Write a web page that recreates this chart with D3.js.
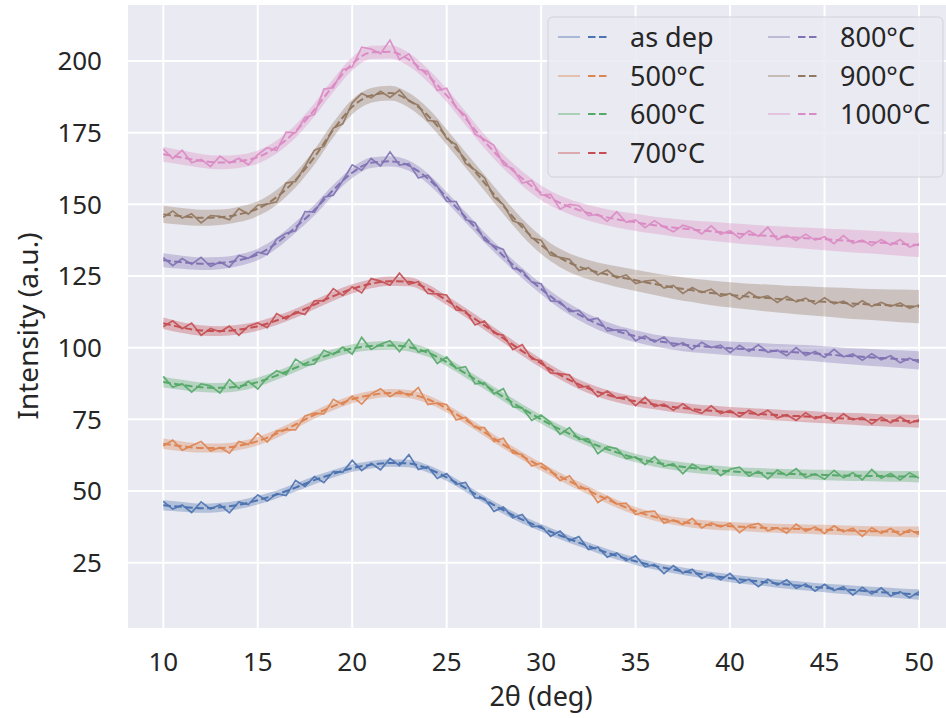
<!DOCTYPE html>
<html>
<head>
<meta charset="utf-8">
<script src="https://cdn.jsdelivr.net/npm/d3@7"></script>
<style>
  body { margin: 0; background: #fff; }
  svg { display: block; font-family: "Noto Sans", "Open Sans", sans-serif; }
</style>
</head>
<body>
<svg id="chart" width="946" height="718"></svg>
<script>
// --- data ---
const seriesNames = ["as dep", "500°C", "600°C", "700°C", "800°C", "900°C", "1000°C"];
const seriesColors = ["#4C72B0", "#DD8452", "#55A868", "#C44E52", "#8172B3", "#937860", "#DA8BC3"];
const xTicks = [10, 15, 20, 25, 30, 35, 40, 45, 50];
const yTicks = [25, 50, 75, 100, 125, 150, 175, 200];

const fitTheta = [10, 11, 12, 13, 14, 15, 16, 17, 18, 19, 20, 21, 22, 23, 24, 25, 26, 27, 28, 29, 30,
  31, 32, 33, 34, 35, 36, 37, 38, 39, 40, 41, 42, 43, 44, 45, 46, 47, 48, 49, 50];
const rawTheta = [10, 10.5, 11, 11.5, 12, 12.5, 13, 13.5, 14, 14.5, 15, 15.5, 16, 16.5, 17, 17.5, 18, 18.5,
  19, 19.5, 20, 20.5, 21, 21.5, 22, 22.5, 23, 23.5, 24, 24.5, 25, 25.5, 26, 26.5, 27, 27.5, 28, 28.5, 29, 29.5,
  30, 30.5, 31, 31.5, 32, 32.5, 33, 33.5, 34, 34.5, 35, 35.5, 36, 36.5, 37, 37.5, 38, 38.5, 39, 39.5, 40, 40.5,
  41, 41.5, 42, 42.5, 43, 43.5, 44, 44.5, 45, 45.5, 46, 46.5, 47, 47.5, 48, 48.5, 49, 49.5, 50];

const fitAsDep = [45.0, 44.5, 44.0, 44.3, 45.2, 46.8, 48.8, 51.2, 53.8, 56.0, 58.0, 59.2, 59.8, 59.6, 57.8, 54.8,
  51.0, 47.0, 43.3, 40.0, 37.2, 34.5, 32.0, 29.6, 27.4, 25.5, 23.9, 22.6, 21.5, 20.5, 19.6, 18.8, 18.1, 17.4,
  16.8, 16.2, 15.7, 15.2, 14.7, 14.3, 13.9];
const fit500 = [66.5, 65.6, 65.0, 65.0, 65.8, 67.4, 70.0, 73.2, 76.6, 79.6, 82.0, 83.5, 84.2, 83.8, 82.0, 78.8,
  74.8, 70.5, 66.2, 62.2, 58.5, 55.0, 51.8, 48.6, 45.6, 43.0, 41.0, 39.6, 38.7, 38.1, 37.7, 37.4, 37.1, 36.9,
  36.7, 36.5, 36.3, 36.1, 35.9, 35.8, 35.7];
const fit600 = [88.0, 87.0, 86.2, 86.0, 86.5, 88.0, 90.3, 93.0, 95.8, 98.0, 99.7, 100.6, 100.8, 100.2, 98.3, 95.0,
  91.0, 87.0, 82.8, 78.8, 75.0, 71.5, 68.5, 65.8, 63.5, 61.5, 60.0, 58.9, 58.0, 57.4, 56.9, 56.5, 56.2, 56.0,
  55.8, 55.6, 55.4, 55.3, 55.2, 55.1, 55.0];
const fit700 = [108.5, 107.0, 106.0, 105.8, 106.3, 107.5, 109.5, 112.0, 115.0, 118.0, 120.5, 122.3, 123.2, 123.0,
  120.5, 116.5, 112.2, 107.8, 103.3, 98.8, 94.5, 90.5, 87.2, 84.6, 82.7, 81.3, 80.2, 79.3, 78.6, 78.0, 77.5, 77.1,
  76.7, 76.3, 76.0, 75.6, 75.3, 75.0, 74.7, 74.5, 74.3];
const fit800 = [130.5, 129.8, 129.3, 129.5, 130.5, 132.5, 136.5, 142.0, 148.0, 155.0, 161.0, 164.5, 165.0, 163.5,
  159.0, 152.5, 145.5, 138.5, 132.0, 126.0, 120.5, 115.5, 111.5, 108.3, 105.8, 104.0, 102.5, 101.5, 100.7, 100.2,
  99.8, 99.4, 99.0, 98.6, 98.2, 97.7, 97.2, 96.8, 96.4, 96.0, 95.6];
const fit900 = [146.5, 145.8, 145.3, 145.5, 146.5, 148.5, 152.5, 158.5, 166.5, 176.0, 184.0, 188.0, 188.8, 186.3,
  181.0, 173.5, 165.5, 157.5, 149.5, 142.0, 135.8, 131.3, 128.3, 126.3, 124.8, 123.5, 122.2, 121.0, 120.0, 119.1,
  118.4, 117.8, 117.3, 116.8, 116.4, 116.0, 115.6, 115.2, 114.9, 114.6, 114.3];
const fit1000 = [167.5, 166.3, 165.2, 164.6, 165.0, 166.5, 170.0, 175.5, 183.0, 191.5, 199.0, 203.0, 203.2, 200.5,
  195.0, 188.0, 180.0, 172.0, 165.0, 159.0, 154.0, 150.5, 148.0, 146.2, 144.8, 143.7, 142.7, 141.9, 141.2, 140.6,
  140.0, 139.5, 139.0, 138.6, 138.2, 137.8, 137.4, 137.0, 136.6, 136.2, 135.8];

const bandAsDep = [1.8, 1.7, 1.6, 1.6, 1.5, 1.5, 1.4, 1.4, 1.4, 1.3, 1.3, 1.3, 1.3, 1.3, 1.3, 1.3, 1.3, 1.3, 1.3,
  1.3, 1.3, 1.3, 1.3, 1.3, 1.3, 1.3, 1.3, 1.3, 1.3, 1.3, 1.4, 1.4, 1.4, 1.5, 1.5, 1.5, 1.6, 1.6, 1.7, 1.7, 1.8];
const band500 = [1.8, 1.7, 1.6, 1.6, 1.5, 1.5, 1.5, 1.4, 1.4, 1.4, 1.4, 1.4, 1.4, 1.4, 1.4, 1.4, 1.4, 1.4, 1.4,
  1.4, 1.4, 1.4, 1.4, 1.4, 1.4, 1.4, 1.4, 1.4, 1.5, 1.5, 1.5, 1.5, 1.6, 1.6, 1.6, 1.7, 1.7, 1.7, 1.8, 1.8, 1.9];
const band600 = [1.9, 1.8, 1.7, 1.7, 1.6, 1.6, 1.5, 1.5, 1.5, 1.5, 1.5, 1.5, 1.5, 1.5, 1.5, 1.5, 1.5, 1.5, 1.5,
  1.5, 1.5, 1.5, 1.5, 1.5, 1.5, 1.5, 1.5, 1.6, 1.6, 1.6, 1.6, 1.6, 1.7, 1.7, 1.7, 1.8, 1.8, 1.8, 1.9, 1.9, 2.0];
const band700 = [2.0, 1.9, 1.8, 1.7, 1.7, 1.6, 1.6, 1.6, 1.6, 1.6, 1.6, 1.6, 1.6, 1.6, 1.6, 1.6, 1.6, 1.6, 1.6,
  1.6, 1.6, 1.6, 1.7, 1.7, 1.7, 1.7, 1.7, 1.8, 1.8, 1.8, 1.8, 1.9, 1.9, 1.9, 2.0, 2.0, 2.0, 2.1, 2.1, 2.2, 2.2];
const band800 = [2.4, 2.3, 2.2, 2.1, 2.0, 2.0, 1.9, 1.9, 1.9, 1.8, 1.8, 1.8, 1.8, 1.8, 1.8, 1.8, 1.8, 1.8, 1.8,
  1.8, 1.9, 1.9, 1.9, 2.0, 2.0, 2.1, 2.1, 2.2, 2.3, 2.3, 2.4, 2.5, 2.5, 2.6, 2.7, 2.8, 2.8, 2.9, 3.0, 3.1, 3.2];
const band900 = [3.0, 2.9, 2.8, 2.7, 2.7, 2.6, 2.6, 2.6, 2.6, 2.6, 2.6, 2.6, 2.6, 2.6, 2.6, 2.7, 2.7, 2.8, 2.9,
  3.0, 3.1, 3.2, 3.3, 3.4, 3.6, 3.7, 3.8, 4.0, 4.1, 4.3, 4.4, 4.5, 4.7, 4.8, 5.0, 5.1, 5.3, 5.4, 5.5, 5.7, 5.8];
const band1000 = [2.6, 2.5, 2.4, 2.4, 2.3, 2.3, 2.3, 2.3, 2.3, 2.3, 2.3, 2.3, 2.3, 2.3, 2.3, 2.3, 2.4, 2.4, 2.5,
  2.5, 2.6, 2.6, 2.7, 2.8, 2.9, 3.0, 3.0, 3.1, 3.2, 3.3, 3.4, 3.5, 3.5, 3.6, 3.7, 3.8, 3.9, 4.0, 4.0, 4.1, 4.2];

const rawAsDep = [46.4, 43.7, 45.1, 42.5, 46.2, 43.7, 45.2, 42.4, 46.2, 45.3, 48.7, 46.5, 49.1, 48.4, 53.7, 51.6,
  55.0, 52.9, 56.8, 56.6, 60.7, 57.1, 59.7, 57.4, 61.4, 58.9, 62.7, 57.5, 58.5, 54.4, 56.1, 52.3, 53.0, 47.6, 47.4,
  42.9, 44.4, 40.7, 41.8, 37.6, 37.8, 34.2, 36.0, 32.7, 34.1, 29.6, 30.4, 26.9, 28.4, 25.7, 27.4, 23.6, 24.4, 21.2,
  24.0, 21.4, 22.7, 19.5, 21.2, 19.1, 21.3, 17.9, 19.2, 16.6, 19.2, 17.2, 19.0, 16.1, 17.6, 15.1, 17.5, 15.3, 16.6,
  13.7, 16.4, 14.1, 16.2, 13.4, 14.9, 12.8, 14.9];
const raw500 = [65.7, 67.8, 64.2, 65.8, 67.3, 64.0, 65.2, 63.2, 67.3, 66.2, 70.2, 67.1, 70.9, 71.3, 71.3, 76.2, 77.2,
  76.9, 82.0, 80.1, 83.1, 80.3, 83.9, 85.7, 82.9, 84.8, 83.2, 86.1, 80.2, 80.7, 80.2, 74.8, 75.7, 72.2, 72.1, 67.3,
  68.4, 63.3, 62.7, 58.7, 59.7, 57.2, 53.6, 55.3, 51.0, 50.8, 46.0, 48.1, 45.4, 45.8, 41.8, 42.7, 43.0, 38.8, 39.9,
  38.3, 40.5, 37.1, 38.9, 37.5, 38.8, 35.5, 38.0, 38.7, 36.1, 37.2, 35.3, 38.5, 36.0, 37.5, 35.2, 37.9, 35.8, 37.0,
  34.2, 37.2, 35.3, 36.9, 34.7, 36.5, 34.8];
const raw600 = [90.0, 86.2, 87.4, 84.5, 87.4, 86.7, 84.2, 88.9, 85.8, 88.3, 85.6, 89.5, 92.0, 90.6, 96.0, 93.8, 94.3,
  99.1, 97.6, 100.2, 97.7, 103.6, 99.4, 101.2, 102.4, 98.6, 102.9, 98.5, 99.2, 94.5, 96.8, 92.7, 93.4, 87.4, 87.7,
  83.9, 85.7, 79.4, 79.0, 74.6, 76.5, 73.9, 69.8, 72.1, 68.0, 68.2, 63.0, 65.5, 64.8, 61.3, 61.9, 59.2, 62.0, 58.6,
  59.5, 56.0, 59.4, 57.4, 58.5, 55.4, 57.6, 58.3, 55.2, 56.9, 54.2, 57.3, 55.4, 57.8, 54.7, 56.0, 54.1, 57.2, 54.6,
  56.4, 53.9, 57.5, 54.5, 56.1, 53.9, 56.4, 54.5];
const raw700 = [107.3, 109.4, 106.6, 108.6, 104.3, 106.7, 105.5, 107.5, 104.3, 107.5, 108.6, 107.0, 111.9, 110.0,
  112.5, 111.6, 116.3, 116.3, 120.6, 118.2, 121.2, 119.1, 124.1, 123.2, 121.8, 126.0, 122.1, 123.0, 118.9, 118.8,
  118.4, 113.2, 112.8, 107.9, 109.3, 105.1, 104.3, 99.3, 101.1, 96.1, 95.4, 91.2, 90.9, 90.5, 86.2, 86.6, 82.9,
  84.9, 82.4, 82.8, 79.8, 82.7, 79.5, 80.3, 78.2, 80.4, 78.2, 77.1, 79.7, 77.0, 78.1, 75.9, 78.2, 76.4, 78.2, 75.5,
  76.6, 74.6, 77.3, 75.2, 76.5, 74.3, 76.9, 74.8, 75.7, 73.4, 75.7, 73.8, 75.8, 73.7, 74.8];
const raw800 = [131.4, 128.6, 131.1, 129.1, 131.5, 128.3, 129.9, 128.1, 132.2, 131.2, 133.3, 132.5, 137.9, 139.9,
  140.8, 147.5, 147.3, 152.5, 153.2, 158.3, 163.8, 161.9, 166.0, 163.4, 168.3, 163.7, 164.2, 159.2, 160.2, 156.3,
  151.0, 151.0, 144.7, 143.6, 137.5, 135.5, 134.3, 127.7, 126.9, 122.9, 122.3, 116.3, 116.1, 112.6, 113.0, 109.6,
  110.3, 105.9, 106.2, 106.0, 102.4, 104.1, 102.0, 103.7, 100.5, 101.7, 99.4, 101.9, 100.0, 100.9, 98.3, 100.8,
  98.7, 101.0, 98.4, 99.1, 97.2, 100.0, 97.3, 98.7, 96.6, 99.4, 96.8, 97.8, 95.6, 97.9, 95.8, 97.2, 94.7, 96.3, 94.8];
const raw900 = [145.5, 147.7, 145.2, 146.7, 143.5, 146.1, 145.8, 144.6, 148.5, 146.6, 149.7, 150.1, 150.9, 157.4,
  158.0, 163.3, 168.9, 170.2, 176.6, 178.1, 185.4, 188.7, 187.2, 189.4, 187.3, 189.8, 186.0, 184.6, 179.3, 178.9,
  172.9, 170.8, 164.3, 162.0, 159.3, 152.5, 149.9, 144.3, 143.1, 138.2, 137.5, 132.3, 131.5, 130.8, 126.9, 127.9,
  125.4, 127.1, 124.3, 125.4, 122.4, 123.2, 123.6, 120.8, 121.7, 118.9, 121.0, 119.2, 120.4, 117.9, 118.9, 116.9,
  119.4, 117.3, 118.1, 115.8, 117.9, 116.0, 117.3, 115.2, 117.4, 115.3, 116.2, 114.3, 116.4, 114.4, 115.8, 114.4,
  115.6, 113.7, 114.9];
const raw1000 = [169.3, 166.0, 168.9, 164.5, 165.7, 163.2, 166.8, 164.4, 166.1, 163.8, 167.3, 169.8, 168.8, 175.2,
  174.9, 180.3, 181.4, 190.2, 190.7, 197.0, 197.9, 204.8, 204.2, 202.6, 207.3, 200.5, 202.5, 197.1, 196.3, 189.7,
  190.5, 183.7, 181.0, 174.5, 172.6, 170.6, 163.9, 162.4, 157.4, 158.3, 153.2, 153.5, 148.3, 150.0, 149.5, 146.1,
  146.5, 144.1, 147.4, 143.7, 144.6, 141.9, 144.3, 142.1, 140.4, 142.7, 141.7, 139.7, 142.5, 139.6, 140.8, 138.2,
  140.8, 138.9, 142.0, 137.7, 139.2, 137.4, 139.6, 137.5, 138.7, 136.3, 139.1, 136.4, 137.5, 135.6, 137.7, 135.8,
  137.7, 135.1, 136.2];

const fitValues = [fitAsDep, fit500, fit600, fit700, fit800, fit900, fit1000];
const rawValues = [rawAsDep, raw500, raw600, raw700, raw800, raw900, raw1000];
const bandValues = [bandAsDep, band500, band600, band700, band800, band900, band1000];

// --- layout ---
const PLOT = { left: 128, right: 946, top: 5, bottom: 628 };
const TEXT_COLOR = "#262626";

const series = seriesNames.map((name, i) => ({
  name,
  color: seriesColors[i],
  raw: rawTheta.map((t, j) => ({ t, v: rawValues[i][j] })),
  fit: fitTheta.map((t, j) => ({ t, v: fitValues[i][j], hw: bandValues[i][j] }))
}));

const x = d3.scaleLinear().domain([10, 50]).range([163.3, 919]);
const y = d3.scaleLinear().domain([25, 200]).range([562.7, 61]);

const svg = d3.select("#chart");

svg.append("defs")
  .append("clipPath")
  .attr("id", "plot-clip")
  .append("rect")
  .attr("x", PLOT.left)
  .attr("y", PLOT.top)
  .attr("width", PLOT.right - PLOT.left)
  .attr("height", PLOT.bottom - PLOT.top);

svg.append("rect")
  .attr("x", PLOT.left)
  .attr("y", PLOT.top)
  .attr("width", PLOT.right - PLOT.left)
  .attr("height", PLOT.bottom - PLOT.top)
  .attr("fill", "#EAEAF2");

// gridlines
const grid = svg.append("g").attr("class", "grid");
grid.selectAll("line.vx")
  .data(xTicks)
  .enter()
  .append("line")
  .attr("x1", d => x(d))
  .attr("x2", d => x(d))
  .attr("y1", PLOT.top)
  .attr("y2", PLOT.bottom)
  .attr("stroke", "#fff")
  .attr("stroke-width", 2);
grid.selectAll("line.hy")
  .data(yTicks)
  .enter()
  .append("line")
  .attr("x1", PLOT.left)
  .attr("x2", PLOT.right)
  .attr("y1", d => y(d))
  .attr("y2", d => y(d))
  .attr("stroke", "#fff")
  .attr("stroke-width", 2);

// curves
const rawLine = d3.line().x(d => x(d.t)).y(d => y(d.v));
const fitLine = d3.line().curve(d3.curveMonotoneX).x(d => x(d.t)).y(d => y(d.v));
const band = d3.area()
  .curve(d3.curveMonotoneX)
  .x(d => x(d.t))
  .y0(d => y(d.v - d.hw))
  .y1(d => y(d.v + d.hw));

const plot = svg.append("g").attr("clip-path", "url(#plot-clip)");

series.forEach(s => {
  const g = plot.append("g").attr("class", "series");
  g.append("path")
    .attr("d", band(s.fit))
    .attr("fill", s.color)
    .attr("fill-opacity", 0.35);
  g.append("path")
    .attr("d", rawLine(s.raw))
    .attr("fill", "none")
    .attr("stroke", s.color)
    .attr("stroke-width", 1.7)
    .attr("stroke-linejoin", "miter")
    .attr("stroke-opacity", 0.9);
  g.append("path")
    .attr("d", fitLine(s.fit))
    .attr("fill", "none")
    .attr("stroke", s.color)
    .attr("stroke-width", 2)
    .attr("stroke-dasharray", "7.5,3.5");
});

// tick labels
svg.append("g")
  .selectAll("text")
  .data(xTicks)
  .enter()
  .append("text")
  .attr("x", d => x(d))
  .attr("y", 671)
  .attr("text-anchor", "middle")
  .attr("font-size", 26)
  .attr("fill", TEXT_COLOR)
  .text(d => d);

svg.append("g")
  .selectAll("text")
  .data(yTicks)
  .enter()
  .append("text")
  .attr("x", 102)
  .attr("y", d => y(d) + 9.3)
  .attr("text-anchor", "end")
  .attr("font-size", 26)
  .attr("fill", TEXT_COLOR)
  .text(d => d);

svg.append("text")
  .attr("x", 541)
  .attr("y", 706)
  .attr("text-anchor", "middle")
  .attr("font-size", 27)
  .attr("fill", TEXT_COLOR)
  .text("2θ (deg)");

svg.append("text")
  .attr("transform", "translate(38,326) rotate(-90)")
  .attr("text-anchor", "middle")
  .attr("font-size", 28)
  .attr("fill", TEXT_COLOR)
  .text("Intensity (a.u.)");

// legend
const legend = svg.append("g").attr("class", "legend");
legend.append("rect")
  .attr("x", 548)
  .attr("y", 17)
  .attr("width", 395)
  .attr("height", 160)
  .attr("rx", 5)
  .attr("fill", "#EAEAF2")
  .attr("fill-opacity", 0.85)
  .attr("stroke", "#d2d2da")
  .attr("stroke-width", 1);

const rowY = [37, 76, 114, 153];
const colX = [558, 768];
series.forEach((s, i) => {
  const col = i < 4 ? 0 : 1;
  const row = i < 4 ? i : i - 4;
  const lx = colX[col];
  const ly = rowY[row];
  legend.append("line")
    .attr("x1", lx).attr("x2", lx + 22)
    .attr("y1", ly).attr("y2", ly)
    .attr("stroke", s.color)
    .attr("stroke-opacity", 0.55)
    .attr("stroke-width", 1.5);
  legend.append("line")
    .attr("x1", lx + 30).attr("x2", lx + 52)
    .attr("y1", ly).attr("y2", ly)
    .attr("stroke", s.color)
    .attr("stroke-width", 2)
    .attr("stroke-dasharray", "7.5,3.5");
  legend.append("text")
    .attr("x", lx + 72)
    .attr("y", ly + 9.5)
    .attr("font-size", 27)
    .attr("fill", TEXT_COLOR)
    .text(s.name);
});
</script>
</body>
</html>
